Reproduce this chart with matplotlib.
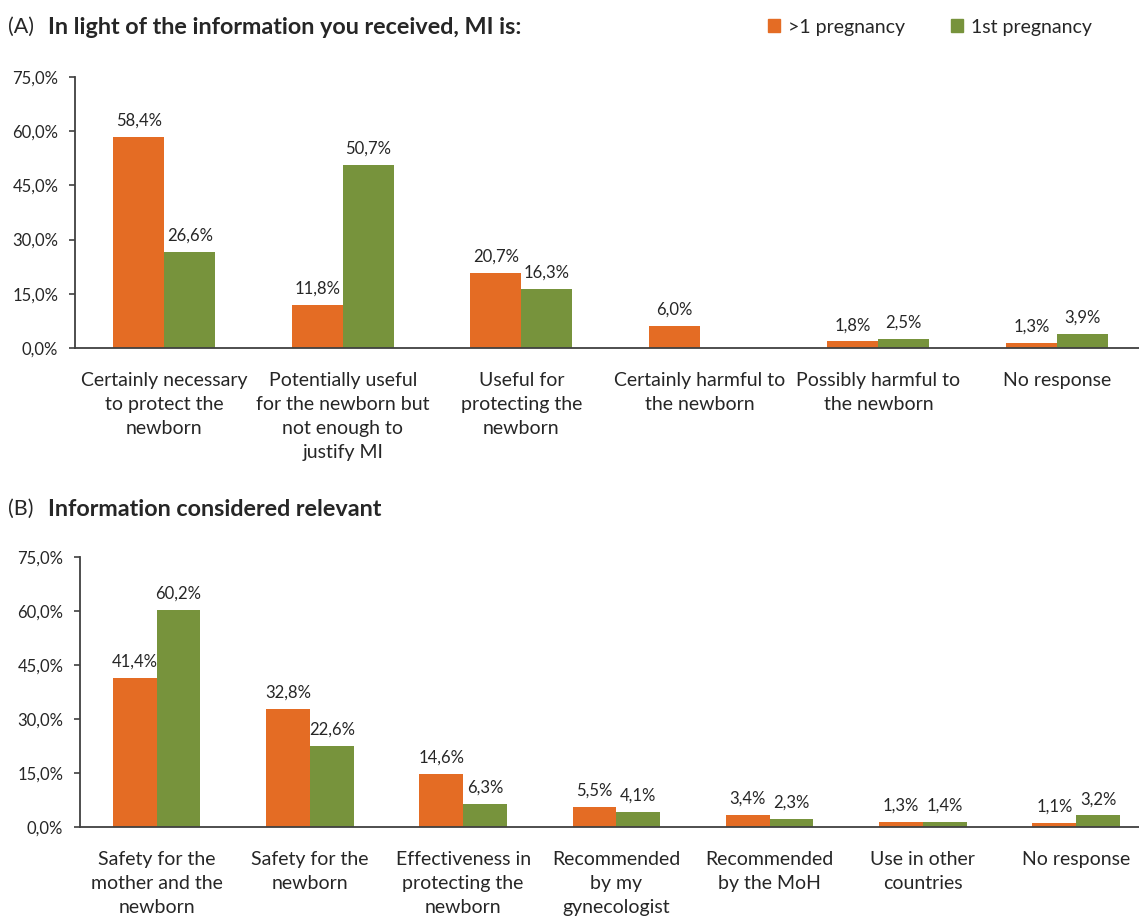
import numpy as np
import matplotlib
matplotlib.use("Agg")
import matplotlib.pyplot as plt
from matplotlib.patches import Patch

plt.rcParams["font.family"] = ["Lato", "DejaVu Sans"]

ORANGE = "#E46C24"
GREEN = "#77933C"
TEXT = "#262626"

cats_a = [
    "Certainly necessary\nto protect the\nnewborn",
    "Potentially useful\nfor the newborn but\nnot enough to\njustify MI",
    "Useful for\nprotecting the\nnewborn",
    "Certainly harmful to\nthe newborn",
    "Possibly harmful to\nthe newborn",
    "No response",
]
multi_a = [58.4, 11.8, 20.7, 6.0, 1.8, 1.3]
first_a = [26.6, 50.7, 16.3, 0.0, 2.5, 3.9]

cats_b = [
    "Safety for the\nmother and the\nnewborn",
    "Safety for the\nnewborn",
    "Effectiveness in\nprotecting the\nnewborn",
    "Recommended\nby my\ngynecologist",
    "Recommended\nby the MoH",
    "Use in other\ncountries",
    "No response",
]
multi_b = [41.4, 32.8, 14.6, 5.5, 3.4, 1.3, 1.1]
first_b = [60.2, 22.6, 6.3, 4.1, 2.3, 1.4, 3.2]

yticks = [0, 15, 30, 45, 60, 75]


def fmt(v):
    return f"{v:.1f}%".replace(".", ",")


def draw(ax, cats, multi, first, xmax):
    x = np.arange(len(cats))
    w = 0.285
    b1 = ax.bar(x - w / 2, multi, w, color=ORANGE)
    b2 = ax.bar(x + w / 2, first, w, color=GREEN)
    for bars, vals in ((b1, multi), (b2, first)):
        for r, v in zip(bars, vals):
            if v <= 0:
                continue
            ax.annotate(fmt(v), (r.get_x() + r.get_width() / 2, v),
                        xytext=(0, 6), textcoords="offset points",
                        ha="center", va="bottom", fontsize=12, color=TEXT)
    ax.set_xlim(-0.5, xmax)
    ax.set_ylim(0, 75)
    ax.set_yticks(yticks)
    ax.set_yticklabels([fmt(t) for t in yticks], fontsize=12, color=TEXT)
    ax.set_xticks(x)
    ax.set_xticklabels(cats, fontsize=14, color=TEXT, linespacing=1.5)
    ax.tick_params(axis="x", length=0, pad=17)
    ax.tick_params(axis="y", direction="out", length=4, width=1.2,
                   color="#404040", pad=8)
    for s in ("top", "right"):
        ax.spines[s].set_visible(False)
    for s in ("left", "bottom"):
        ax.spines[s].set_color("#404040")
        ax.spines[s].set_linewidth(1.3)


fig = plt.figure(figsize=(11.39, 9.18), dpi=100)

ax_a = fig.add_axes([75 / 1139, 1 - 348 / 918, 1 - 75 / 1139, (348 - 77) / 918])
draw(ax_a, cats_a, multi_a, first_a, 5.46)

ax_b = fig.add_axes([80 / 1139, 1 - 827 / 918, 1 - 80 / 1139, (827 - 557) / 918])
draw(ax_b, cats_b, multi_b, first_b, 6.41)

fig.text(8 / 1139, 1 - 27 / 918, "(A)", fontsize=15.5, color=TEXT, va="center")
fig.text(48 / 1139, 1 - 27 / 918, "In light of the information you received, MI is:",
         fontsize=16.8, fontweight="bold", color=TEXT, va="center")
fig.text(8 / 1139, 1 - 509 / 918, "(B)", fontsize=15.5, color=TEXT, va="center")
fig.text(48 / 1139, 1 - 509 / 918, "Information considered relevant",
         fontsize=16.8, fontweight="bold", color=TEXT, va="center")

handles = [Patch(color=ORANGE, label=">1 pregnancy"),
           Patch(color=GREEN, label="1st pregnancy")]
fig.legend(handles=handles, loc="center", bbox_to_anchor=(930 / 1139, 1 - 27 / 918),
           ncol=2, frameon=False, fontsize=14, handlelength=0.6, handleheight=0.6,
           handletextpad=0.4, columnspacing=2.4, labelcolor=TEXT)

fig.savefig("out.png", dpi=100)
